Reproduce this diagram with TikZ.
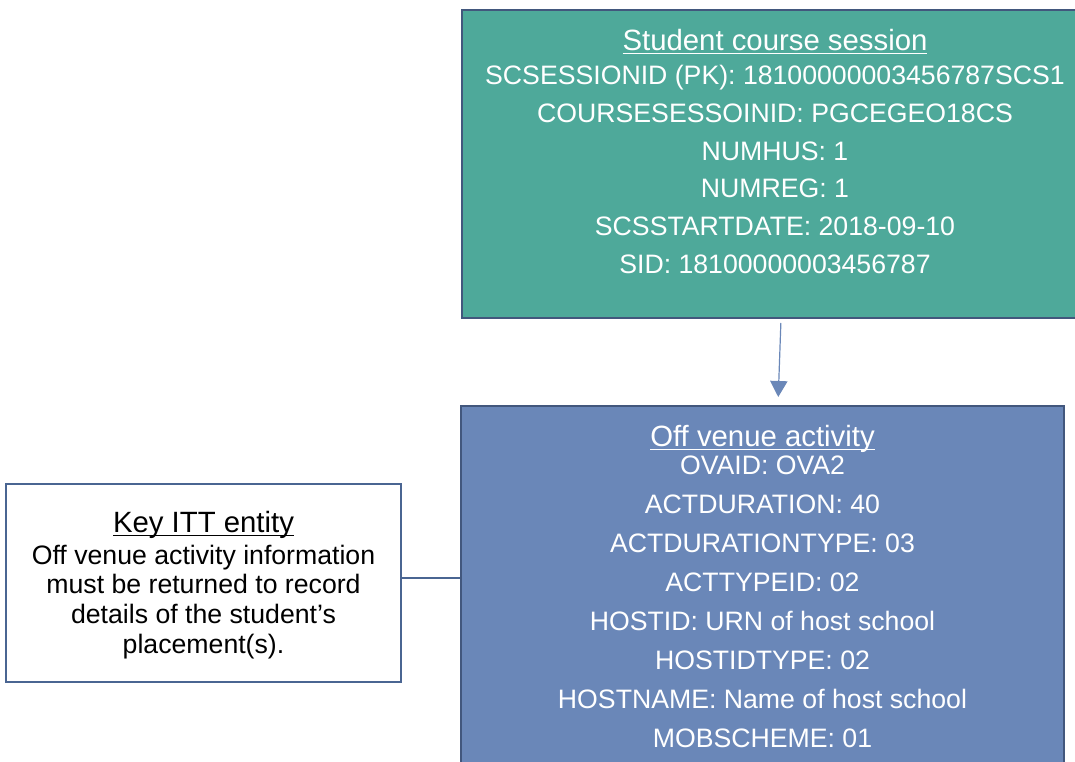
\documentclass[tikz,border=0pt]{standalone}
\usepackage{fontspec}
\setmainfont{Liberation Sans}
\usetikzlibrary{arrows.meta,positioning}
\definecolor{sessteal}{RGB}{78,169,154}
\definecolor{ovablue}{RGB}{106,135,184}
\definecolor{boxedge}{RGB}{66,87,125}
\definecolor{linkblue}{RGB}{74,101,146}
% entity title, underlined just below the baseline
\newcommand\headul[1]{{\fontsize{22}{24}\selectfont\setbox0\hbox{#1}\rlap{\rule[-2.6pt]{\wd0}{1.1pt}}\box0}}
\begin{document}
\begin{tikzpicture}[x=0.75pt,y=-0.75pt,
	entity/.style={draw=boxedge,line width=1.5pt,inner sep=0pt},
	fieldtext/.style={text=white,align=center,inner sep=0pt,anchor=north},
	link/.style={draw=linkblue,line width=1.5pt}]
	\useasboundingbox (0,0) rectangle (1075,762);
	% Student course session
	\node[entity,fill=sessteal,minimum width=469.5pt,minimum height=231pt] (scs) at (775,164) {};
	\node[fieldtext,font=\fontsize{20}{28.4}\selectfont] (scstext) at (775,29) {\headul{Student course session}\\[-3pt]
		SCSESSIONID (PK): 18100000003456787SCS1\\
		COURSESESSOINID: PGCEGEO18CS\\
		NUMHUS: 1\\
		NUMREG: 1\\
		SCSSTARTDATE: 2018-09-10\\
		SID: 18100000003456787};
	% Off venue activity
	\node[entity,fill=ovablue,minimum width=452.25pt,minimum height=288pt] (ova) at (762.5,598) {};
	\node[fieldtext,font=\fontsize{20}{29.25}\selectfont] (ovatext) at (762.5,425) {\headul{Off venue activity}\\[-8.25pt]
		OVAID: OVA2\\
		ACTDURATION: 40\\
		ACTDURATIONTYPE: 03\\
		ACTTYPEID: 02\\
		HOSTID: URN of host school\\
		HOSTIDTYPE: 02\\
		HOSTNAME: Name of host school\\
		MOBSCHEME: 01};
	% Key entity note
	\node[entity,draw=linkblue,fill=white,minimum width=296.25pt,minimum height=148.5pt] (key) at (203.5,583) {};
	\node[fieldtext,text=black,font=\fontsize{20}{22.3}\selectfont] (keytext) at (203.5,511) {\headul{Key ITT entity}\\[1.5pt]
		Off venue activity information\\
		must be returned to record\\
		details of the student's\\
		placement(s).};
	% connectors
	\draw[link,draw=ovablue,line width=0.9pt,-{Triangle[width=13pt,length=12pt]},shorten <=3pt,shorten >=6pt] ([xshift=4.5pt]scs.south) -- ([xshift=11.6pt]ova.north);
	\draw[link] ([yshift=3.75pt]key.east) -- ([yshift=3.75pt]key.east -| ova.west);
\end{tikzpicture}
\end{document}
